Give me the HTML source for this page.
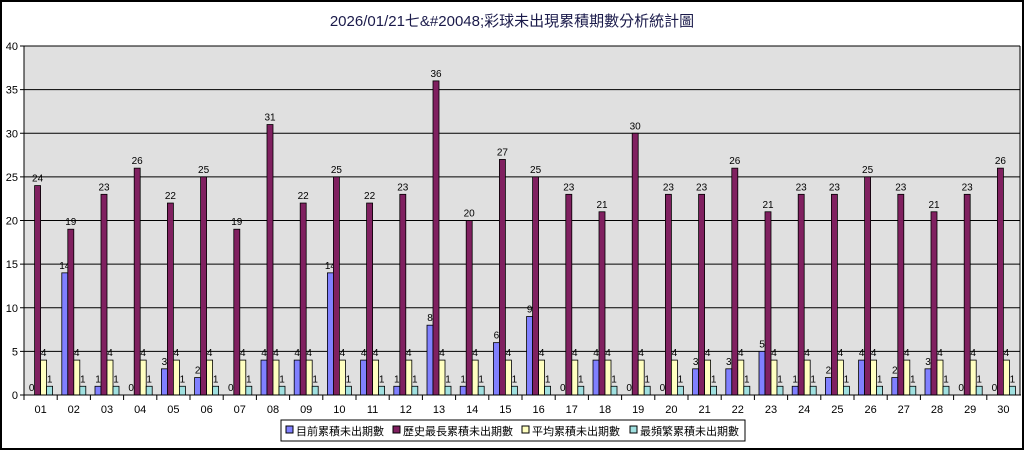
<!DOCTYPE html>
<html><head><meta charset="utf-8"><style>
body{margin:0;background:#fff}
svg{display:block;font-family:"Liberation Sans","Noto Sans CJK TC",sans-serif}
</style></head><body>
<svg id="c" width="1024" height="450">
<rect x="1" y="1" width="1022" height="448" fill="#fff" stroke="#000" stroke-width="2"/>
<text x="512" y="26" text-anchor="middle" font-size="15" fill="#1a1a4a">2026/01/21七&amp;#20048;彩球未出現累積期數分析統計圖</text>
<g id="plot"></g>
<g>
<rect x="281" y="420" width="464" height="21" fill="#fff" stroke="#000"/>
<g id="leg"></g>
</g>
</svg>
<script>
const categories=["01","02","03","04","05","06","07","08","09","10","11","12","13","14","15","16","17","18","19","20","21","22","23","24","25","26","27","28","29","30"];
const currentGap=[0,14,1,0,3,2,0,4,4,14,4,1,8,1,6,9,0,4,0,0,3,3,5,1,2,4,2,3,0,0];
const maxGap=[24,19,23,26,22,25,19,31,22,25,22,23,36,20,27,25,23,21,30,23,23,26,21,23,23,25,23,21,23,26];
const avgGap=[4,4,4,4,4,4,4,4,4,4,4,4,4,4,4,4,4,4,4,4,4,4,4,4,4,4,4,4,4,4];
const freqGap=[1,1,1,1,1,1,1,1,1,1,1,1,1,1,1,1,1,1,1,1,1,1,1,1,1,1,1,1,1,1];
const yTicks=[0,5,10,15,20,25,30,35,40];
const seriesNames=["目前累積未出期數","歷史最長累積未出期數","平均累積未出期數","最頻繁累積未出期數"];
const NS="http://www.w3.org/2000/svg";
const X0=24,X1=1020,Y0=395,Y1=46,YMAX=40;
const cw=(X1-X0)/categories.length;
const y=v=>Y0-(v/YMAX)*(Y0-Y1);
const x=i=>X0+i*cw;
const plot=document.getElementById('plot');
function mk(t,a,p){const e=document.createElementNS(NS,t);for(const k in a)e.setAttribute(k,a[k]);(p||plot).appendChild(e);return e;}
const bg=mk('rect',{x:X0,y:Y1,width:X1-X0,height:Y0-Y1,fill:'#e0e0e0'});


yTicks.forEach(t=>{
 const l=mk('line',{x1:X0-4,x2:X1,y1:y(t),y2:y(t),stroke:'#000'});
 
 
 const tx=mk('text',{x:X0-6,y:y(t)+4,'text-anchor':'end','font-size':11});
 tx.textContent=t;
 
 
});
mk('line',{x1:X0,x2:X0,y1:Y1,y2:Y0,stroke:'#000'});
mk('line',{x1:X1,x2:X1,y1:Y1,y2:Y0,stroke:'#000'});
const colors=["#8080ff","#802060","#ffffc0","#a0e0e0"];
const series=[currentGap,maxGap,avgGap,freqGap];
const bw=6,off=4.6;
categories.forEach((c,i)=>{
 const tk=mk('line',{x1:x(i),x2:x(i),y1:Y0,y2:Y0+5,stroke:'#000'});
 
 
 const tl=mk('text',{x:x(i)+cw/2,y:Y0+18,'text-anchor':'middle','font-size':11});
 tl.textContent=c;
 
 
 series.forEach((s,j)=>{
  const bx=x(i)+off+j*bw,v=s[i];
  if(v>0){
   const r=mk('rect',{x:bx,y:y(v),width:bw,height:Y0-y(v),fill:colors[j],stroke:'#000','stroke-width':0.8});
   
   
  }
  const lb=mk('text',{x:bx+bw/2,y:y(v)-4,'text-anchor':'middle','font-size':10});
  lb.textContent=v;
  
  
 });
});
mk('line',{x1:X0,x2:X1+1,y1:Y0,y2:Y0,stroke:'#000'});
const leg=document.getElementById('leg');
const lx=[286,393,522,630];
seriesNames.forEach((n,j)=>{
 const r=mk('rect',{x:lx[j],y:426,width:7,height:7,fill:colors[j],stroke:'#000'},leg);
 
 
 const t=mk('text',{x:lx[j]+10,y:435,'font-size':11},leg);
 t.textContent=n;
 
 
});
</script>
</body></html>
